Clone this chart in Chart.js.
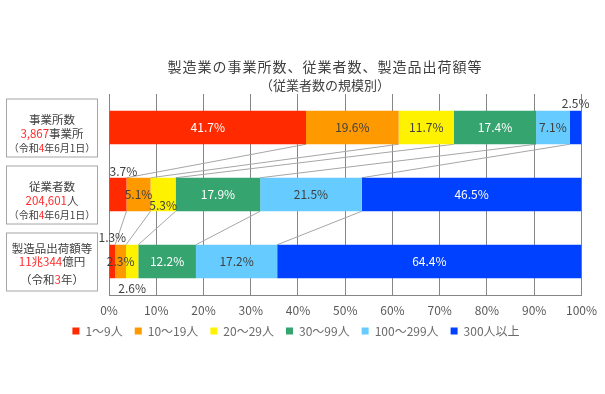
<!DOCTYPE html>
<html><head><meta charset="utf-8">
<script src="https://cdn.jsdelivr.net/npm/chart.js@4"></script>
<style>html,body{margin:0;padding:0;background:#fff}#wrap{width:605px;height:394px;position:relative}</style>
</head><body><div id="wrap"><canvas id="c" width="605" height="394"></canvas></div>
<script>
// ---- data ----
const categories = ['事業所数', '従業者数', '製造品出荷額等'];
const sizeClasses = ['1～9人', '10～19人', '20～29人', '30～99人', '100～299人', '300人以上'];
const share1to9     = [41.7, 3.7, 1.3];
const share10to19   = [19.6, 5.1, 2.3];
const share20to29   = [11.7, 5.3, 2.6];
const share30to99   = [17.4, 17.9, 12.2];
const share100to299 = [7.1, 21.5, 17.2];
const share300plus  = [2.5, 46.5, 64.4];
const xTickValues = [0, 10, 20, 30, 40, 50, 60, 70, 80, 90, 100];
const titleLines = ['製造業の事業所数、従業者数、製造品出荷額等', '（従業者数の規模別）'];
// category box text segments per line ('r' = red, 'k' = dark)
const boxLine2 = [[['3,867', 'r'], ['事業所', 'k']], [['204,601', 'r'], ['人', 'k']], [['11兆344', 'r'], ['億円', 'k']]];
const boxLine3 = [[['（令和', 'k'], ['4', 'r'], ['年6月1日）', 'k']], [['（令和', 'k'], ['4', 'r'], ['年6月1日）', 'k']], [['（令和', 'k'], ['3', 'r'], ['年）', 'k']]];

// ---- style ----
const colors = ['#FF2A00', '#FF9900', '#FFF200', '#36A46F', '#66CCFF', '#0040FF'];
const labelColors = ['#ffffff', '#404040', '#404040', '#ffffff', '#404040', '#ffffff'];
const FONT = '"Noto Sans CJK JP", "Noto Sans", sans-serif';
Chart.defaults.font.family = FONT;
// special label placements key: dataset-row
const placement = { '5-0': 'above', '0-1': 'aboveLeft', '2-1': 'low', '0-2': 'above', '2-2': 'below' };

const seriesValues = [share1to9, share10to19, share20to29, share30to99, share100to299, share300plus];

const decoPlugin = {
  id: 'deco',
  beforeDatasetsDraw(chart) {
    const ctx = chart.ctx, xs = chart.scales.x;
    const metas = seriesValues.map((_, d) => chart.getDatasetMeta(d));
    ctx.save();
    ctx.strokeStyle = '#a6a6a6';
    ctx.lineWidth = 1;
    for (let r = 0; r < categories.length - 1; r++) {
      const b0 = metas[0].data[r].getProps(['y', 'height'], true);
      const b1 = metas[0].data[r + 1].getProps(['y', 'height'], true);
      let c0 = 0, c1 = 0;
      for (let k = 0; k < seriesValues.length - 1; k++) {
        c0 += seriesValues[k][r]; c1 += seriesValues[k][r + 1];
        ctx.beginPath();
        ctx.moveTo(xs.getPixelForValue(c0), b0.y + b0.height / 2);
        ctx.lineTo(xs.getPixelForValue(c1), b1.y - b1.height / 2);
        ctx.stroke();
      }
    }
    ctx.restore();
  },
  afterDatasetsDraw(chart) {
    const ctx = chart.ctx;
    ctx.save();
    ctx.font = '12px ' + FONT;
    ctx.textBaseline = 'middle';
    seriesValues.forEach((vals, d) => {
      const meta = chart.getDatasetMeta(d);
      vals.forEach((v, r) => {
        const el = meta.data[r].getProps(['x', 'y', 'base', 'height'], true);
        const left = Math.min(el.x, el.base), right = Math.max(el.x, el.base);
        const cx = (left + right) / 2;
        const txt = v.toFixed(1) + '%';
        const p = placement[d + '-' + r];
        ctx.textAlign = 'center';
        let x = cx, y = el.y, col = labelColors[d];
        if (p === 'above') { y = el.y - el.height / 2 - 7; col = '#404040'; }
        else if (p === 'aboveLeft') { x = left; ctx.textAlign = 'left'; y = el.y - el.height / 2 - 6; col = '#404040'; }
        else if (p === 'below') { y = el.y + el.height / 2 + 10; col = '#404040'; }
        else if (p === 'low') { y = el.y + 11; }
        ctx.fillStyle = col;
        ctx.fillText(txt, x, y);
      });
    });
    ctx.restore();
  },
  afterDraw(chart) {
    const ctx = chart.ctx;
    ctx.save();
    // title
    ctx.fillStyle = '#404040';
    ctx.textAlign = 'center';
    ctx.textBaseline = 'middle';
    ctx.font = '14px ' + FONT;
    if ('letterSpacing' in ctx) ctx.letterSpacing = '1px';
    ctx.fillText(titleLines[0], 325, 67);
    if ('letterSpacing' in ctx) ctx.letterSpacing = '0px';
    ctx.font = '13px ' + FONT;
    ctx.fillText(titleLines[1], 325, 85);
    // category boxes
    const ys = chart.scales.y;
    const drawSegs = (segs, cx, y) => {
      const w = segs.reduce((s, g) => s + ctx.measureText(g[0]).width, 0);
      let x = cx - w / 2;
      ctx.textAlign = 'left';
      segs.forEach(g => {
        ctx.fillStyle = g[1] === 'r' ? '#FF2A2A' : '#404040';
        ctx.fillText(g[0], x, y);
        x += ctx.measureText(g[0]).width;
      });
    };
    categories.forEach((c, i) => {
      const cy = ys.getPixelForValue(i);
      const boxTop = cy - 29, boxH = 58;
      const cx = 52;
      ctx.strokeStyle = '#a6a6a6';
      ctx.lineWidth = 1;
      ctx.fillStyle = '#fff';
      ctx.fillRect(6.5, boxTop + 0.5, 91, boxH);
      ctx.strokeRect(6.5, boxTop + 0.5, 91, boxH);
      ctx.font = '11.5px ' + FONT;
      ctx.fillStyle = '#404040';
      ctx.textAlign = 'center';
      const last = i === categories.length - 1;
      ctx.fillText(c, cx, cy - (last ? 13 : 8));
      drawSegs(boxLine2[i], cx, cy + (last ? 0 : 6));
      ctx.font = (last ? '11.5px ' : '10px ') + FONT;
      drawSegs(boxLine3[i], cx, cy + (last ? 18 : 21));
    });
    ctx.restore();
  }
};

new Chart(document.getElementById('c'), {
  type: 'bar',
  data: {
    labels: categories,
    datasets: seriesValues.map((vals, d) => ({
      label: sizeClasses[d],
      data: vals,
      backgroundColor: colors[d],
      borderWidth: 0,
      barPercentage: 0.5,
      categoryPercentage: 1
    }))
  },
  options: {
    indexAxis: 'y',
    responsive: false,
    animation: false,
    layout: { padding: { top: 94, left: 9, right: 22, bottom: 40 } },
    scales: {
      x: {
        stacked: true, min: 0, max: 100,
        afterBuildTicks: s => { s.ticks = xTickValues.map(v => ({ value: v })); },
        ticks: { callback: v => v + '%', color: '#595959', font: { size: 12 }, padding: 8, maxRotation: 0, autoSkip: false },
        grid: { color: '#868686', drawTicks: false },
        border: { color: '#868686' },
        afterFit: s => { s.height = 25; }
      },
      y: {
        stacked: true,
        ticks: { display: false },
        grid: { display: false },
        border: { display: false },
        afterFit: s => { s.width = 100; }
      }
    },
    plugins: {
      legend: {
        position: 'bottom',
        labels: { boxWidth: 7, boxHeight: 7, color: '#6b6b6b', font: { size: 12 }, padding: 12 },
        onClick: null
      },
      title: { display: false },
      tooltip: { enabled: false }
    }
  },
  plugins: [decoPlugin, {
    id: 'legendShift',
    afterLayout(chart) {
      // pull the legend box up so its row sits just below the tick labels
      const lg = chart.legend;
      if (lg) { lg.top -= 7; lg.bottom -= 7; }
    }
  }]
});
</script>
</body></html>
